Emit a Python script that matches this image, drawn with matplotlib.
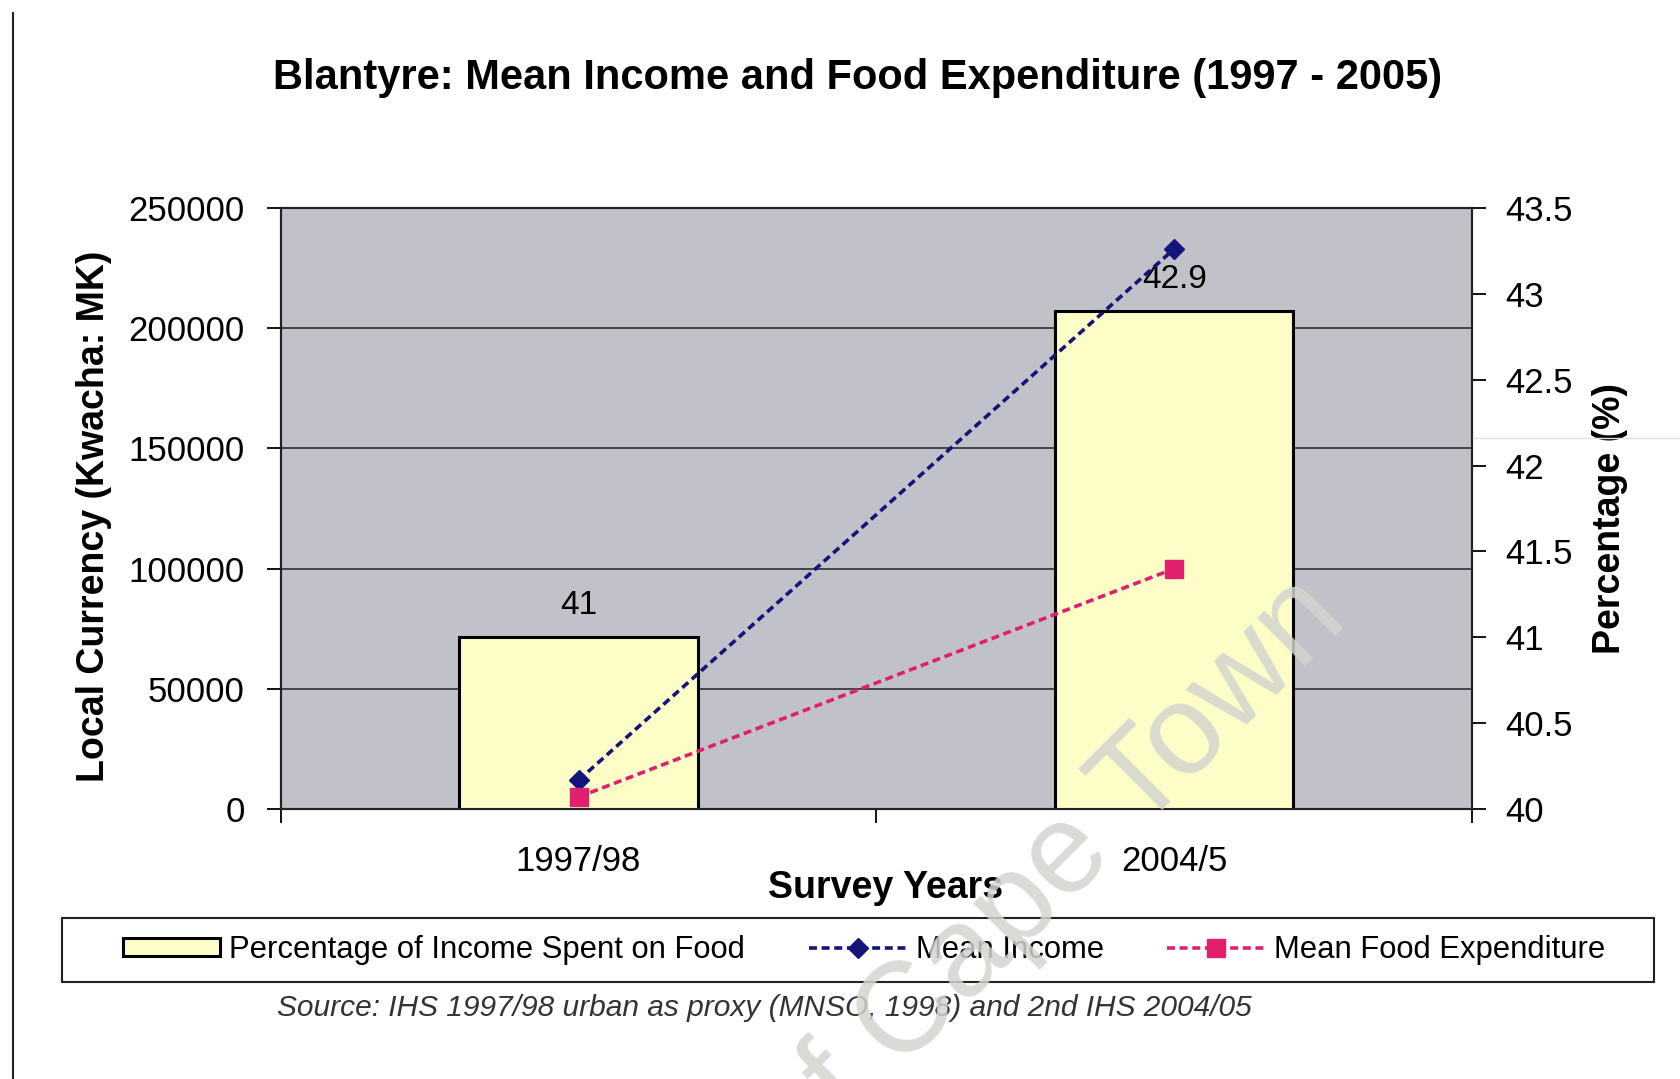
import numpy as np
import matplotlib
matplotlib.use("Agg")
import matplotlib.pyplot as plt
from matplotlib.patches import Rectangle
from matplotlib.lines import Line2D

plt.rcParams['font.family'] = ['Liberation Sans', 'DejaVu Sans']

# data
years = ["1997/98", "2004/5"]
pct_food = [41.0, 42.9]
mean_income = [12000, 233000]
mean_food = [5000, 100000]

title = "Blantyre: Mean Income and Food Expenditure (1997 - 2005)"
source = "Source: IHS 1997/98 urban as proxy (MNSO, 1998) and 2nd IHS 2004/05"

fig = plt.figure(figsize=(16.81, 10.79), dpi=100)
ax = fig.add_axes([0.167, 0.2502, 0.7087, 0.557])
ax.set_facecolor('#c1c1c9')

x = np.arange(len(years))

# left axis: currency, gridlines
ax.set_ylim(0, 250000)
ax.set_yticks(np.arange(0, 250001, 50000))
ax.set_yticklabels([str(v) for v in range(0, 250001, 50000)])
ax.grid(axis='y', color='#222222', lw=1.1)
ax.set_axisbelow(True)
ax.set_xlim(-0.5, 1.5)
ax.set_xticks([-0.5, 0.5, 1.5])
ax.set_xticklabels([])
ax.set_xticks(x, minor=True)
ax.set_xticklabels(years, minor=True)
ax.tick_params(axis='x', which='major', length=10, width=1.3, direction='out')
ax.tick_params(axis='x', which='minor', length=0, pad=26, labelsize=25)
ax.tick_params(axis='y', length=10, width=1.3, pad=16, labelsize=25)
for s in ax.spines.values():
    s.set_color('#222222')
    s.set_linewidth(1.5)

ax.set_ylabel("Local Currency (Kwacha: MK)", fontsize=27, fontweight='bold')
ax.yaxis.label.set_va('center')
ax.yaxis.set_label_coords(-0.157, 0.4875)
ax.set_xlabel("Survey Years", fontsize=27, fontweight='bold')
ax.xaxis.label.set_va('center')
ax.xaxis.set_label_coords(0.508, -0.131)

# right axis: percentage bars
ax2 = ax.twinx()
ax2.set_ylim(40, 43.5)
pticks = np.arange(40, 43.51, 0.5)
ax2.set_yticks(pticks)
ax2.set_yticklabels([f'{v:g}' for v in pticks])
ax2.tick_params(axis='y', length=10, width=1.3, pad=14, labelsize=25)
for s in ax2.spines.values():
    s.set_color('#222222')
    s.set_linewidth(1.5)
bars = ax2.bar(x, pct_food, width=0.4, color='#fdfdc8', edgecolor='black', lw=2.2,
               label='Percentage of Income Spent on Food')
for xi, v in zip(x, pct_food):
    ax2.annotate(f'{v:g}', (xi, v), xytext=(0, 23), textcoords='offset points',
                 ha='center', va='center', fontsize=24)
ax2.set_ylabel("Percentage (%)", fontsize=27, fontweight='bold', rotation=90)
ax2.yaxis.label.set_va('center')
ax2.yaxis.set_label_coords(1.116, 0.484)

# lines on top
ax3 = ax.twinx()
ax3.set_ylim(0, 250000)
ax3.axis('off')
l1, = ax3.plot(x, mean_income, color='#14147a', lw=2.6, ls='--', dashes=(2.2, 1.3),
               marker='D', ms=10, label='Mean Income')
l2, = ax3.plot(x, mean_food, color='#e0206e', lw=2.6, ls='--', dashes=(2.2, 1.3),
               marker='s', ms=13, label='Mean Food Expenditure')

fig.text(0.51, 0.928, title, ha='center', va='center', fontsize=30, fontweight='bold')

fig.legend([bars, l1, l2], [bars.get_label(), l1.get_label(), l2.get_label()],
           loc='center', bbox_to_anchor=(0.514, 0.1196), ncol=3, frameon=False,
           fontsize=22.3, handlelength=3.15, handleheight=0.5, handletextpad=0.3,
           columnspacing=2.05)
fig.add_artist(Rectangle((0.0369, 0.0899), 0.947, 0.0593, transform=fig.transFigure,
                         fill=False, lw=1.5, ec='#222222'))

fig.text(0.165, 0.0658, source, ha='left', va='center', fontsize=21.5,
         style='italic', color='#333333')

# page border and faint scan line
fig.add_artist(Line2D([0.0077, 0.0077], [0, 0.988], transform=fig.transFigure,
                      color='#222222', lw=1.5))
fig.add_artist(Line2D([0.876, 1.0], [0.594, 0.594], transform=fig.transFigure,
                      color='#e2e2e2', lw=1.0))

# watermark
fig.text(0.803, 0.424, "University of Cape Town", rotation=45, rotation_mode='anchor',
         ha='right', va='baseline', fontsize=92, color=(0.83, 0.83, 0.81), alpha=0.85,
         zorder=10)

fig.savefig("out.png", dpi=100)
